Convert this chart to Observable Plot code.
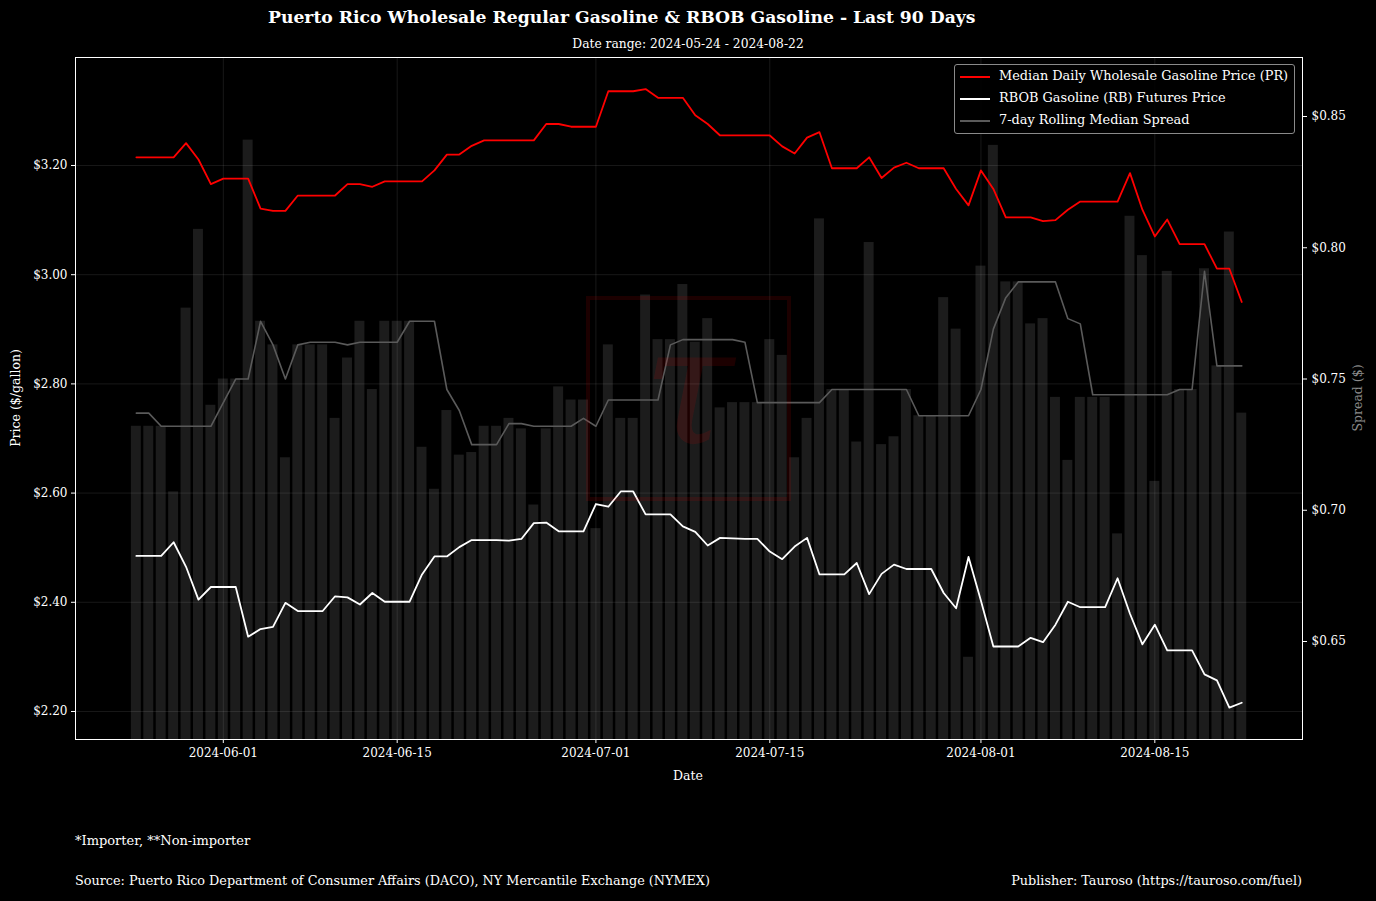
<!DOCTYPE html>
<html><head><meta charset="utf-8">
<script src="https://cdn.jsdelivr.net/npm/d3@7"></script>
<script src="https://cdn.jsdelivr.net/npm/@observablehq/plot@0.6"></script>
<style>
body{margin:0;background:#000;}
#wrap{position:relative;width:1376px;height:901px;background:#000;font-family:"DejaVu Serif",serif;color:#fff;overflow:hidden}
.t{position:absolute;white-space:nowrap;line-height:1}
#legend{position:absolute;left:954px;top:64px;width:341px;height:70px;border:1px solid #8a8a8a;border-radius:3px;background:rgba(0,0,0,0.85);box-sizing:border-box}
.li{position:absolute;left:5px;height:20px;font-size:12.9px;line-height:20px;white-space:nowrap}
.li span{display:inline-block;width:30px;vertical-align:middle;margin-right:9px}
#wm{position:absolute;left:586px;top:296px;width:205px;height:205px;border:4px solid rgba(255,0,0,0.11);box-sizing:border-box;pointer-events:none}
#wm div{position:absolute;left:0;right:0;top:4px;text-align:center;font-size:165px;font-style:italic;color:rgba(255,0,0,0.11);line-height:1}
</style></head><body><div id="wrap"></div>
<script>
// ---- data ----
const startDate = "2024-05-25";
const prPrice = [
  3.215,3.215,3.215,3.215,3.241,3.211,3.166,3.176,3.176,3.176,
  3.121,3.117,3.117,3.145,3.145,3.145,3.145,3.166,3.166,3.161,
  3.171,3.171,3.171,3.171,3.191,3.220,3.220,3.236,3.246,3.246,
  3.246,3.246,3.246,3.276,3.276,3.271,3.271,3.271,3.336,3.336,
  3.336,3.340,3.324,3.324,3.324,3.292,3.276,3.255,3.255,3.255,
  3.255,3.255,3.235,3.222,3.251,3.261,3.195,3.195,3.195,3.215,
  3.177,3.196,3.205,3.195,3.195,3.195,3.157,3.127,3.191,3.157,
  3.105,3.105,3.105,3.098,3.100,3.119,3.134,3.134,3.134,3.134,
  3.186,3.119,3.070,3.101,3.056,3.056,3.056,3.011,3.011,2.950
];
const rbPrice = [
  2.485,2.485,2.485,2.510,2.465,2.405,2.428,2.428,2.428,2.337,
  2.351,2.355,2.399,2.384,2.384,2.384,2.411,2.409,2.396,2.417,
  2.401,2.401,2.401,2.451,2.484,2.484,2.501,2.514,2.514,2.514,
  2.513,2.516,2.545,2.546,2.530,2.530,2.530,2.580,2.575,2.603,
  2.603,2.561,2.561,2.561,2.539,2.529,2.504,2.518,2.517,2.516,
  2.516,2.493,2.479,2.502,2.518,2.451,2.451,2.451,2.472,2.415,
  2.452,2.469,2.461,2.461,2.461,2.417,2.389,2.483,2.403,2.319,
  2.319,2.319,2.335,2.327,2.359,2.401,2.391,2.391,2.391,2.444,
  2.379,2.323,2.359,2.312,2.312,2.312,2.268,2.257,2.207,2.216
];
const spread = [
  0.732,0.732,0.732,0.707,0.777,0.807,0.740,0.750,0.750,0.841,
  0.772,0.763,0.720,0.763,0.763,0.763,0.735,0.758,0.772,0.746,
  0.772,0.772,0.772,0.724,0.708,0.738,0.721,0.722,0.732,0.732,
  0.735,0.731,0.702,0.731,0.747,0.742,0.742,0.693,0.763,0.735,
  0.735,0.782,0.765,0.765,0.786,0.764,0.773,0.739,0.741,0.741,
  0.741,0.765,0.759,0.720,0.735,0.811,0.746,0.746,0.726,0.802,
  0.725,0.728,0.746,0.736,0.736,0.781,0.769,0.644,0.793,0.839,
  0.787,0.787,0.771,0.773,0.743,0.719,0.743,0.743,0.743,0.691,
  0.812,0.797,0.711,0.791,0.746,0.746,0.792,0.755,0.806,0.737
];
const rollingSpread = [
  0.737,0.737,0.732,0.732,0.732,0.732,0.732,0.741,0.750,0.750,
  0.772,0.763,0.750,0.763,0.764,0.764,0.764,0.763,0.764,0.764,
  0.764,0.764,0.772,0.772,0.772,0.746,0.738,0.725,0.725,0.725,
  0.733,0.733,0.732,0.732,0.732,0.732,0.735,0.732,0.742,0.742,
  0.742,0.742,0.742,0.763,0.765,0.765,0.765,0.765,0.765,0.764,
  0.741,0.741,0.741,0.741,0.741,0.741,0.746,0.746,0.746,0.746,
  0.746,0.746,0.746,0.736,0.736,0.736,0.736,0.736,0.746,0.769,
  0.781,0.787,0.787,0.787,0.787,0.773,0.771,0.744,0.744,0.744,
  0.744,0.744,0.744,0.744,0.746,0.746,0.791,0.755,0.755,0.755
];
const priceTicks = [2.2, 2.4, 2.6, 2.8, 3.0, 3.2];
const spreadTicks = [0.65, 0.70, 0.75, 0.80, 0.85];
const dateTicks = ["2024-06-01","2024-06-15","2024-07-01","2024-07-15","2024-08-01","2024-08-15"];
const seriesNames = ["Median Daily Wholesale Gasoline Price (PR)", "RBOB Gasoline (RB) Futures Price", "7-day Rolling Median Spread"];
const seriesColors = ["#ff0000", "#ffffff", "#5a5a5a"];

// ---- scales ----
const priceDomain = [2.1487, 3.3978];
const spreadDomain = [0.61267, 0.87248];
const k = (priceDomain[1] - priceDomain[0]) / (spreadDomain[1] - spreadDomain[0]);
const toLeft = s => priceDomain[0] + (s - spreadDomain[0]) * k;
const toRight = v => spreadDomain[0] + (v - priceDomain[0]) / k;

const day = 864e5;
const t0 = d3.utcParse("%Y-%m-%d")(startDate);
const rows = prPrice.map((p, i) => ({
  date: new Date(+t0 + i * day),
  pr: p, rb: rbPrice[i], spread: spread[i], roll: rollingSpread[i]
}));
const xDomain = [new Date(+t0 - 4.9 * day), new Date(+t0 + 93.89 * day)];
const dTicks = dateTicks.map(d3.utcParse("%Y-%m-%d"));

const chart = Plot.plot({
  width: 1376, height: 901,
  marginLeft: 75, marginRight: 74, marginTop: 57, marginBottom: 162,
  style: {background: "transparent", color: "white", fontFamily: "DejaVu Serif", fontSize: "12px"},
  x: {type: "utc", domain: xDomain},
  y: {domain: priceDomain},
  marks: [
    Plot.rect(rows, {
      x1: d => new Date(+d.date - 0.4 * day), x2: d => new Date(+d.date + 0.4 * day),
      y1: priceDomain[0], y2: d => toLeft(d.spread), fill: "#1c1c1c", clip: true
    }),
    Plot.gridY(priceTicks, {stroke: "#ffffff", strokeOpacity: 0.12, strokeWidth: 0.8}),
    Plot.gridX(dTicks, {stroke: "#ffffff", strokeOpacity: 0.12, strokeWidth: 0.8}),
    Plot.line(rows, {x: "date", y: d => toLeft(d.roll), stroke: seriesColors[2], strokeWidth: 1.6}),
    Plot.line(rows, {x: "date", y: "pr", stroke: seriesColors[0], strokeWidth: 1.8}),
    Plot.line(rows, {x: "date", y: "rb", stroke: seriesColors[1], strokeWidth: 1.8}),
    Plot.frame({stroke: "white", strokeWidth: 1}),
    Plot.axisY(priceTicks, {anchor: "left", tickFormat: d => "$" + d.toFixed(2), tickSize: 4, tickPadding: 4, label: null, fill: "white", stroke: "white"}),
    Plot.axisY(spreadTicks.map(toLeft), {anchor: "right", tickFormat: v => "$" + toRight(v).toFixed(2), tickSize: 4, tickPadding: 5, label: null, fill: "white", stroke: "white"}),
    Plot.axisX(dTicks, {anchor: "bottom", tickFormat: d3.utcFormat("%Y-%m-%d"), tickSize: 4, tickPadding: 5, label: null, fill: "white", stroke: "white"})
  ]
});

const wrap = document.getElementById("wrap");
wrap.appendChild(chart);
chart.style.position = "absolute"; chart.style.left = "0"; chart.style.top = "0";

function addText(txt, css) {
  const el = document.createElement("div");
  el.className = "t"; el.textContent = txt;
  Object.assign(el.style, css);
  wrap.appendChild(el);
  return el;
}
addText("Puerto Rico Wholesale Regular Gasoline & RBOB Gasoline - Last 90 Days", {left: "268px", top: "9px", fontSize: "17.2px", fontWeight: "bold"});
addText("Date range: 2024-05-24 - 2024-08-22", {left: "688px", top: "38px", fontSize: "12.3px", transform: "translateX(-50%)"});
addText("Date", {left: "688px", top: "770px", fontSize: "12.5px", transform: "translateX(-50%)"});
addText("Price ($/gallon)", {left: "16px", top: "398px", fontSize: "12.5px", transform: "translate(-50%,-50%) rotate(-90deg)"});
addText("Spread ($)", {left: "1358px", top: "398px", fontSize: "12.5px", color: "#8a8a8a", transform: "translate(-50%,-50%) rotate(-90deg)"});
addText("*Importer, **Non-importer", {left: "75px", top: "834px", fontSize: "13px"});
addText("Source: Puerto Rico Department of Consumer Affairs (DACO), NY Mercantile Exchange (NYMEX)", {left: "75px", top: "875px", fontSize: "12.8px"});
addText("Publisher: Tauroso (https://tauroso.com/fuel)", {right: "74px", top: "875px", fontSize: "12.8px"});

// watermark
const wm = document.createElement("div"); wm.id = "wm";
const wmt = document.createElement("div"); wmt.textContent = "τ"; wm.appendChild(wmt);
wrap.appendChild(wm);

// legend
const lg = document.createElement("div"); lg.id = "legend";
seriesNames.forEach((n, i) => {
  const li = document.createElement("div"); li.className = "li";
  li.style.top = (1 + i * 22) + "px";
  const sw = document.createElement("span");
  sw.style.borderTop = `2px solid ${seriesColors[i]}`;
  li.appendChild(sw);
  li.appendChild(document.createTextNode(n));
  lg.appendChild(li);
});
wrap.appendChild(lg);
</script></body></html>
